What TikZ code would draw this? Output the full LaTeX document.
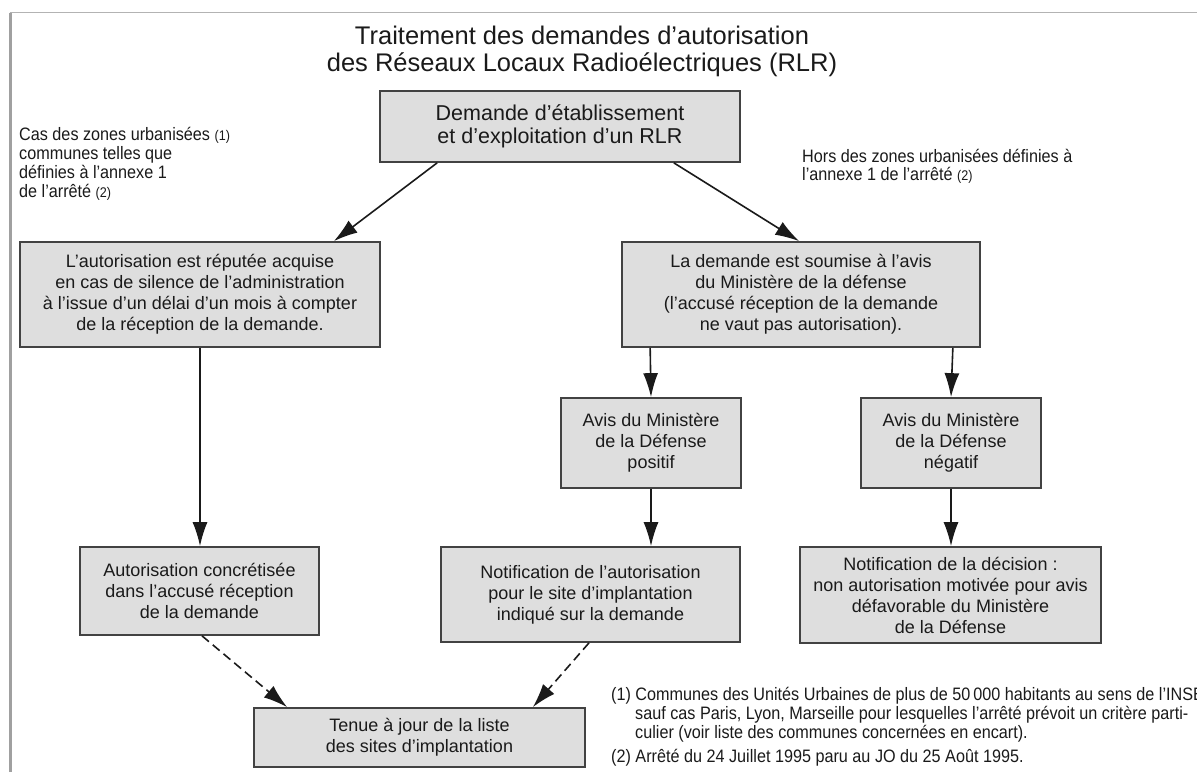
\documentclass[tikz,border=0pt]{standalone}
\usepackage{fontspec}
\setmainfont{Liberation Sans}
\newfontfamily\narrowsans[FakeStretch=0.9]{Liberation Sans}
\usetikzlibrary{arrows.meta}
\definecolor{boxfill}{HTML}{DEDEDE}
\definecolor{boxline}{HTML}{424242}
\definecolor{ink}{HTML}{1A1A1A}
\definecolor{framegray}{HTML}{A0A0A0}

\begin{document}
\begin{tikzpicture}[x=1pt,y=-1pt,
  box/.style={draw=boxline, fill=boxfill, line width=1.7pt, inner sep=0pt,
              align=center, text=ink, font=\fontsize{18}{21}\selectfont},
  arr/.style={draw=ink, line width=1.6pt, -{Latex[length=24pt,width=15pt]}},
  dasharr/.style={arr, dash pattern=on 9pt off 5pt},
  note/.style={anchor=base west, inner sep=0pt, text=ink,
               font=\narrowsans\fontsize{18}{19}\selectfont},
  titletext/.style={anchor=base, inner sep=0pt, text=ink,
                    font=\fontsize{25.5}{27}\selectfont},
]
\useasboundingbox (0,0) rectangle (1197,772);
\clip (0,0) rectangle (1197,772);

% page frame
\draw[framegray, line width=2.5pt] (10.5,772) -- (10.5,12.5);
\draw[framegray!80, line width=1.2pt] (9.5,12.5) -- (1197,12.5);

% title
\node[titletext] (t1) at (582,44) {Traitement des demandes d’autorisation};
\node[titletext] (t2) at (582,71) {des Réseaux Locaux Radioélectriques (RLR)};

% side notes
\node[note] (cn1) at (19,140) {Cas des zones urbanisées {\fontsize{14}{14}\selectfont(1)}};
\node[note] (cn2) at (19,159) {communes telles que};
\node[note] (cn3) at (19,178) {définies à l’annexe 1};
\node[note] (cn4) at (19,197) {de l’arrêté {\fontsize{14}{14}\selectfont(2)}};
\node[note] (hn1) at (802,162) {Hors des zones urbanisées définies à};
\node[note] (hn2) at (802,180) {l’annexe 1 de l’arrêté {\fontsize{14}{14}\selectfont(2)}};

% boxes
\node[box, minimum width=360pt, minimum height=71pt, font=\fontsize{21.5}{23}\selectfont]
  (top) at (560,126.5) {Demande d’établissement\\et d’exploitation d’un RLR};
\node[box, minimum width=360pt, minimum height=105pt] (b1) at (200,294.5)
  {L’autorisation est réputée acquise\\en cas de silence de l’administration\\à l’issue d’un délai d’un mois à compter\\de la réception de la demande.};
\node[box, minimum width=358pt, minimum height=105pt] (b2) at (801,294.5)
  {La demande est soumise à l’avis\\du Ministère de la défense\\(l’accusé réception de la demande\\ne vaut pas autorisation).};
\node[box, minimum width=180pt, minimum height=90pt] (posit) at (651,443)
  {Avis du Ministère\\de la Défense\\positif};
\node[box, minimum width=180pt, minimum height=90pt] (negat) at (951,443)
  {Avis du Ministère\\de la Défense\\négatif};
\node[box, minimum width=239pt, minimum height=88pt] (concr) at (199.5,591)
  {Autorisation concrétisée\\dans l’accusé réception\\de la demande};
\node[box, minimum width=299pt, minimum height=95pt] (notifa) at (590.5,594.5)
  {Notification de l’autorisation\\pour le site d’implantation\\indiqué sur la demande};
\node[box, minimum width=301pt, minimum height=96pt] (notifd) at (950.5,595)
  {Notification de la décision :\\non autorisation motivée pour avis\\défavorable du Ministère\\de la Défense};
\node[box, minimum width=331pt, minimum height=59pt] (tenue) at (419.5,737.5)
  {Tenue à jour de la liste\\des sites d’implantation};

% connectors
\draw[arr] ([xshift=58pt]top.south west) -- ([xshift=-47pt]b1.north east);
\draw[arr] ([xshift=-67pt]top.south east) -- ([xshift=178pt]b2.north west);
\draw[arr] (b1.south) -- (b1.south |- concr.north);
\draw[arr] ([xshift=29pt]b2.south west) -- (posit.north);
\draw[arr] ([xshift=-28pt]b2.south east) -- (negat.north);
\draw[arr] (posit.south) -- (posit.south |- notifa.north);
\draw[arr] (negat.south) -- (negat.south |- notifd.north);
\draw[dasharr] ([xshift=2.5pt]concr.south) -- ([xshift=34pt]tenue.north west);
\draw[dasharr] ([xshift=-1.5pt]notifa.south) -- ([xshift=-53pt]tenue.north east);

% footnotes (the first two lines run on past the right margin)
\node[note] (f1) at (611,700) {(1) Communes des Unités Urbaines de plus de 50\,000 habitants au sens de l’INSEE};
\node[note] (f2) at (635,719) {sauf cas Paris, Lyon, Marseille pour lesquelles l’arrêté prévoit un critère parti-};
\node[note] (f3) at (635,738) {culier (voir liste des communes concernées en encart).};
\node[note] (f4) at (611,762) {(2) Arrêté du 24 Juillet 1995 paru au JO du 25 Août 1995.};
\end{tikzpicture}
\end{document}
